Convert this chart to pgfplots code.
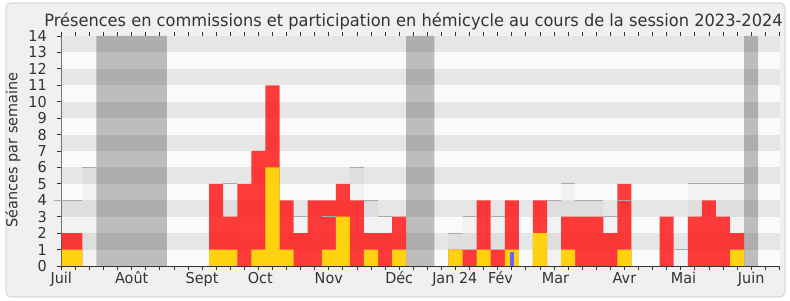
\documentclass[border=0pt]{standalone}
\usepackage{fontspec}
\setmainfont{DejaVu Sans}[FakeStretch=0.96]
\usepackage{pgfplots}
\usepackage{pgfplotstable}
\pgfplotsset{compat=1.18}
\definecolor{bandA}{HTML}{FAFAFA}
\definecolor{bandB}{HTML}{E6E6E6}
\definecolor{bgc}{HTML}{F0F0F0}
\definecolor{framec}{HTML}{DADADA}
\definecolor{txt}{HTML}{333333}
\definecolor{redb}{HTML}{FF1A1A}
\definecolor{yel}{HTML}{FFD20F}
\definecolor{blu}{HTML}{6666FF}
\definecolor{medline}{HTML}{AAAAAA}

% edge = left edge of the week (week index - 0.5)
\pgfplotstableread{
edge red yel med vac
-0.5 2 1 4 0
0.5 2 1 4 0
1.5 0 0 6 0
2.5 0 0 0 14
3.5 0 0 0 14
4.5 0 0 0 14
5.5 0 0 0 14
6.5 0 0 0 14
7.5 0 0 0 0
8.5 0 0 0 0
9.5 0 0 0 0
10.5 5 1 0 0
11.5 3 1 5 0
12.5 5 0 0 0
13.5 7 1 0 0
14.5 11 6 0 0
15.5 4 1 0 0
16.5 2 0 3 0
17.5 4 0 0 0
18.5 4 1 3 0
19.5 5 3 0 0
20.5 4 0 6 0
21.5 2 1 4 0
22.5 2 0 3 0
23.5 3 1 0 0
24.5 0 0 0 14
25.5 0 0 0 14
26.5 0 0 0 0
27.5 1 1 2 0
28.5 1 0 3 0
29.5 4 1 0 0
30.5 1 0 3 0
31.5 4 1 0 0
32.5 0 0 0 0
33.5 4 2 0 0
34.5 0 0 4 0
35.5 3 1 5 0
36.5 3 0 4 0
37.5 3 0 4 0
38.5 2 0 3 0
39.5 5 1 4 0
40.5 0 0 0 0
41.5 0 0 0 0
42.5 3 0 0 0
43.5 0 0 1 0
44.5 3 0 5 0
45.5 4 0 5 0
46.5 3 0 5 0
47.5 2 1 5 0
48.5 0 0 0 14
49.5 0 0 0 0
50.5 0 0 0 0
51.5 0 0 0 0
}\weeks

\begin{document}
\begin{tikzpicture}[x=1bp,y=1bp]
\fill[white] (0,0) rectangle (790,300);
\draw[framec, fill=bgc, line width=1.2bp, rounded corners=5bp] (6,3) rectangle (785,297);
\path[use as bounding box] (0,0) rectangle (790,300);
\node[txt, anchor=base, font=\fontsize{16.9bp}{20bp}\selectfont] at (413.5,273.3) {Présences en commissions et participation en hémicycle au cours de la session 2023-2024};
\node[txt, rotate=90, font=\fontsize{15bp}{18bp}\selectfont] at (13,150) {Séances par semaine};
\begin{axis}[
  at={(61.3bp,34bp)}, anchor=south west, scale only axis,
  width=718.7bp, height=230bp,
  xmin=0, xmax=51.05, ymin=0, ymax=14,
  axis background/.style={fill=bandA},
  axis line style={draw=none},
  tick align=outside,
  xtick={0,5,10,14.13,19,24,27.95,31.2,35.1,40,44.2,49},
  xticklabels={Juil,Août,Sept,Oct,Nov,Déc,Jan 24,Fév,Mar,Avr,Mai,Juin},
  major x tick style={draw=none},
  minor xtick={0,...,51},
  minor tick length=4bp,
  major tick length=4.5bp,
  ytick={0,...,14}, ytick pos=left,
  tick style={txt, line width=0.8bp},
  /pgf/number format/assume math mode=true,
  ticklabel style={font=\fontsize{15bp}{18bp}\selectfont, text=txt},
  xticklabel style={anchor=base, yshift=-12.8bp},
  yticklabel style={xshift=-6.5bp},
]
\fill[bandB] (axis cs:0,1) rectangle (axis cs:51.05,2);
\fill[bandB] (axis cs:0,3) rectangle (axis cs:51.05,4);
\fill[bandB] (axis cs:0,5) rectangle (axis cs:51.05,6);
\fill[bandB] (axis cs:0,7) rectangle (axis cs:51.05,8);
\fill[bandB] (axis cs:0,9) rectangle (axis cs:51.05,10);
\fill[bandB] (axis cs:0,11) rectangle (axis cs:51.05,12);
\fill[bandB] (axis cs:0,13) rectangle (axis cs:51.05,14);
% vacations
\addplot[const plot, fill=black, fill opacity=0.245, draw=none] table[x=edge, y=vac] {\weeks} \closedcycle;
% median
\addplot[const plot, fill=black, fill opacity=0.03, draw=none] table[x=edge, y=med] {\weeks} \closedcycle;
\addplot[only marks, mark=-, mark size=7.04bp, mark options={medline, line width=1bp}] coordinates {
(0,4)(1,4)(2,6)(12,5)(17,3)(19,3)(21,6)(22,4)(23,3)(28,2)(29,3)(31,3)(35,4)(36,5)(37,4)(38,4)(39,3)(40,4)(44,1)(45,5)(46,5)(47,5)(48,5)};
% commission presence
\addplot[const plot, fill=redb, fill opacity=0.85, draw=none] table[x=edge, y=red] {\weeks} \closedcycle;
% hemicycle
\addplot[const plot, fill=yel, draw=none] table[x=edge, y=yel] {\weeks} \closedcycle;
% blue
\addplot[ybar, bar width=0.26, bar shift=0pt, fill=blu, draw=none] coordinates {(32,0.85)};
\draw[txt, line width=0.9bp] (rel axis cs:0,1) -- (rel axis cs:0,0) -- (rel axis cs:1,0);
\end{axis}
\end{tikzpicture}
\end{document}
